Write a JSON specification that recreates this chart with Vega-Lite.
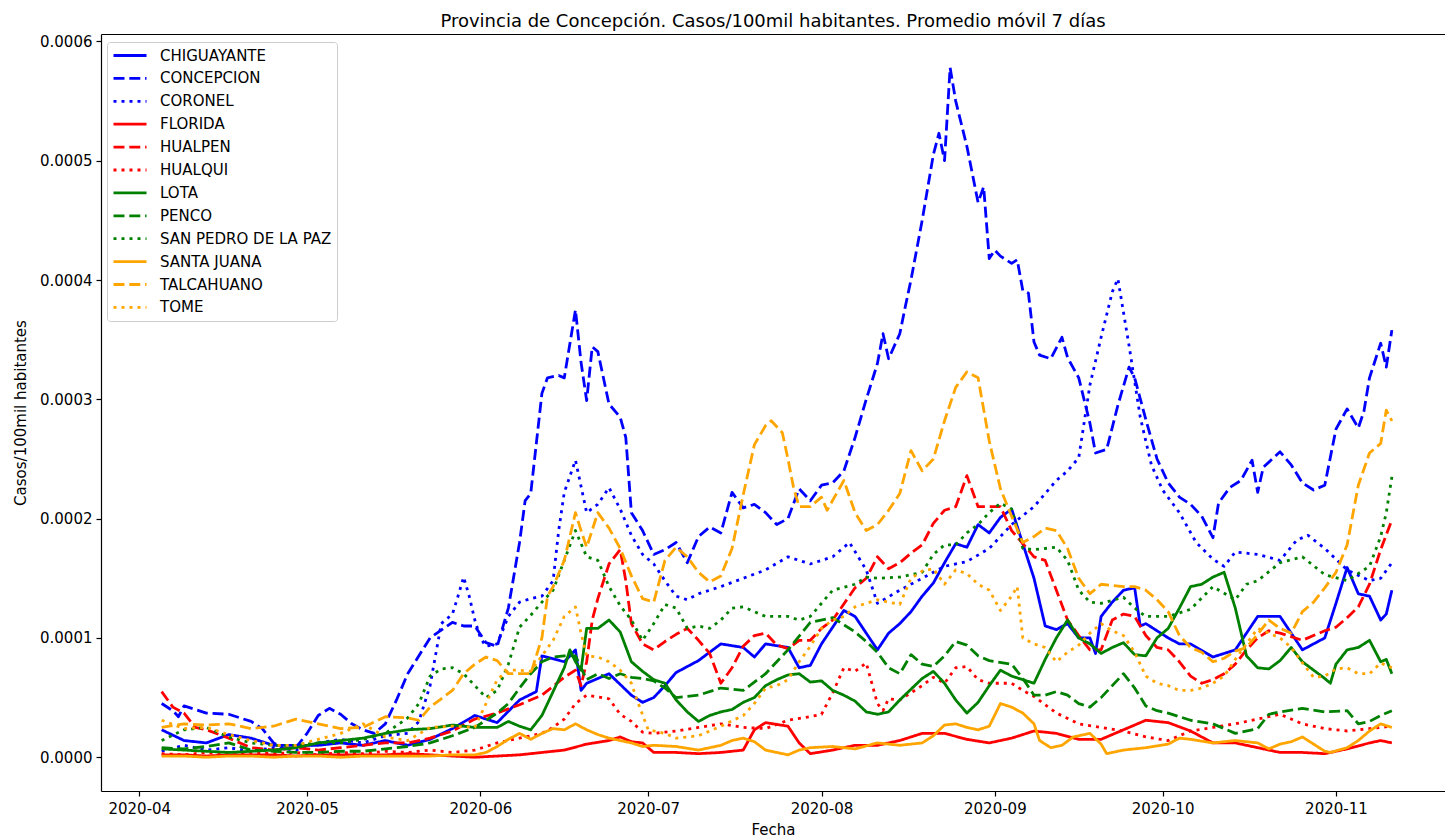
{
"$schema":"https://vega.github.io/schema/vega-lite/v6.json",
"autosize":{"type":"none"},
"width":1344,"height":757,
"padding":{"left":101,"top":34,"right":0,"bottom":47},
"background":"white",
"title":{"text":"Provincia de Concepción. Casos/100mil habitantes. Promedio móvil 7 días","font":"DejaVu Sans","fontSize":18,"fontWeight":"normal","color":"black","anchor":"middle","baseline":"alphabetic","offset":9,"dy":20},
"config":{"view":{"stroke":null},"font":"DejaVu Sans"},
"datasets":{"names":[
{"k":"CH","name":"CHIGUAYANTE"},{"k":"CN","name":"CONCEPCION"},{"k":"CR","name":"CORONEL"},
{"k":"FL","name":"FLORIDA"},{"k":"HP","name":"HUALPEN"},{"k":"HQ","name":"HUALQUI"},
{"k":"LO","name":"LOTA"},{"k":"PE","name":"PENCO"},{"k":"SP","name":"SAN PEDRO DE LA PAZ"},
{"k":"SJ","name":"SANTA JUANA"},{"k":"TA","name":"TALCAHUANO"},{"k":"TO","name":"TOME"}]},
"data":{"values":[
{"d":"2020-04-05","CH":23e-6,"CN":45e-6,"CR":5e-6,"FL":2e-6,"HP":55e-6,"HQ":3e-6,"LO":7e-6,"PE":8e-6,"SP":14e-6,"SJ":1e-6,"TA":25e-6,"TO":31e-6},
{"d":"2020-04-07","CN":39e-6,"HP":42e-6},
{"d":"2020-04-08","CN":34e-6},
{"d":"2020-04-09","CH":14e-6,"CN":43e-6,"CR":10e-6,"FL":2e-6,"HP":37e-6,"HQ":2e-6,"LO":6e-6,"PE":7e-6,"SP":23e-6,"SJ":1e-6,"TA":28e-6,"TO":24e-6},
{"d":"2020-04-11","HP":25e-6},
{"d":"2020-04-13","CH":12e-6,"CN":37e-6,"CR":6e-6,"FL":1e-6,"HP":23e-6,"HQ":4e-6,"LO":5e-6,"PE":9e-6,"SP":25e-6,"SJ":0,"TA":27e-6,"TO":25e-6},
{"d":"2020-04-17","CH":19e-6,"CN":36e-6,"CR":8e-6,"FL":2e-6,"HP":16e-6,"HQ":2e-6,"LO":4e-6,"PE":12e-6,"SP":17e-6,"SJ":1e-6,"TA":28e-6,"TO":19e-6},
{"d":"2020-04-21","CH":16e-6,"CN":30e-6,"CR":5e-6,"FL":2e-6,"HP":8e-6,"HQ":4e-6,"LO":5e-6,"PE":6e-6,"SP":12e-6,"SJ":1e-6,"TA":24e-6,"TO":14e-6},
{"d":"2020-04-23","CN":24e-6},
{"d":"2020-04-25","CH":10e-6,"CN":12e-6,"CR":8e-6,"FL":2e-6,"HP":6e-6,"HQ":3e-6,"LO":6e-6,"PE":5e-6,"SP":10e-6,"SJ":0,"TA":26e-6,"TO":10e-6},
{"d":"2020-04-27","CN":7e-6},
{"d":"2020-04-29","CH":10e-6,"CN":8e-6,"CR":6e-6,"FL":1e-6,"HP":8e-6,"HQ":4e-6,"LO":8e-6,"PE":4e-6,"SP":10e-6,"SJ":1e-6,"TA":32e-6,"TO":10e-6},
{"d":"2020-05-01","CN":20e-6},
{"d":"2020-05-03","CH":10e-6,"CN":35e-6,"CR":12e-6,"FL":2e-6,"HP":6e-6,"HQ":2e-6,"LO":12e-6,"PE":4e-6,"SP":12e-6,"SJ":1e-6,"TA":28e-6,"TO":15e-6},
{"d":"2020-05-05","CN":41e-6},
{"d":"2020-05-07","CH":12e-6,"CN":36e-6,"CR":15e-6,"FL":2e-6,"HP":8e-6,"HQ":4e-6,"LO":14e-6,"PE":5e-6,"SP":12e-6,"SJ":0,"TA":24e-6,"TO":20e-6},
{"d":"2020-05-09","CN":28e-6},
{"d":"2020-05-11","CH":10e-6,"CN":23e-6,"CR":12e-6,"FL":2e-6,"HP":10e-6,"HQ":3e-6,"LO":16e-6,"PE":5e-6,"SP":15e-6,"SJ":1e-6,"TA":25e-6,"TO":28e-6},
{"d":"2020-05-13","CN":20e-6},
{"d":"2020-05-15","CH":14e-6,"CN":28e-6,"CR":18e-6,"FL":2e-6,"HP":12e-6,"HQ":5e-6,"LO":20e-6,"PE":7e-6,"SP":20e-6,"SJ":1e-6,"TA":34e-6,"TO":17e-6},
{"d":"2020-05-17","CN":48e-6},
{"d":"2020-05-19","CH":10e-6,"CN":70e-6,"CR":20e-6,"FL":3e-6,"HP":12e-6,"HQ":4e-6,"LO":23e-6,"PE":9e-6,"SP":33e-6,"SJ":1e-6,"TA":33e-6,"TO":14e-6},
{"d":"2020-05-21","CN":85e-6,"CR":30e-6,"SP":45e-6,"TA":31e-6},
{"d":"2020-05-23","CH":15e-6,"CN":100e-6,"CR":60e-6,"FL":2e-6,"HP":16e-6,"HQ":6e-6,"LO":24e-6,"PE":12e-6,"SP":68e-6,"SJ":1e-6,"TA":42e-6,"TO":25e-6},
{"d":"2020-05-25","CR":112e-6,"SP":74e-6,"TA":49e-6},
{"d":"2020-05-27","CH":24e-6,"CN":113e-6,"CR":120e-6,"FL":1e-6,"HP":22e-6,"HQ":4e-6,"LO":27e-6,"PE":18e-6,"SP":75e-6,"SJ":2e-6,"TA":56e-6,"TO":26e-6},
{"d":"2020-05-28","CR":135e-6},
{"d":"2020-05-29","CN":110e-6,"CR":151e-6,"SP":70e-6,"TA":70e-6},
{"d":"2020-05-30","CR":135e-6},
{"d":"2020-05-31","CH":35e-6,"CN":110e-6,"CR":115e-6,"FL":0,"HP":32e-6,"HQ":6e-6,"LO":25e-6,"PE":25e-6,"SP":60e-6,"SJ":2e-6,"TA":78e-6,"TO":25e-6},
{"d":"2020-06-01","CR":100e-6},
{"d":"2020-06-02","CN":96e-6,"CR":93e-6,"SP":50e-6,"SJ":4e-6,"TA":84e-6,"TO":45e-6},
{"d":"2020-06-04","CH":29e-6,"CN":93e-6,"CR":95e-6,"FL":1e-6,"HP":37e-6,"HQ":12e-6,"LO":25e-6,"PE":37e-6,"SP":56e-6,"SJ":9e-6,"TA":81e-6,"TO":65e-6},
{"d":"2020-06-06","CN":125e-6,"CR":118e-6,"LO":30e-6,"PE":45e-6,"SP":78e-6,"SJ":15e-6,"TA":70e-6,"TO":73e-6},
{"d":"2020-06-08","CH":48e-6,"CN":180e-6,"CR":130e-6,"FL":2e-6,"HP":44e-6,"HQ":16e-6,"LO":26e-6,"PE":58e-6,"SP":109e-6,"SJ":20e-6,"TA":70e-6,"TO":73e-6},
{"d":"2020-06-09","CN":215e-6},
{"d":"2020-06-10","CN":221e-6,"CR":133e-6,"LO":23e-6,"PE":70e-6,"SP":119e-6,"SJ":15e-6,"TA":70e-6,"TO":72e-6},
{"d":"2020-06-11","CH":55e-6},
{"d":"2020-06-12","CH":85e-6,"CN":305e-6,"CR":135e-6,"FL":4e-6,"HP":52e-6,"HQ":20e-6,"LO":35e-6,"PE":80e-6,"SP":130e-6,"SJ":20e-6,"TA":100e-6,"TO":85e-6},
{"d":"2020-06-13","CN":318e-6,"TA":135e-6},
{"d":"2020-06-14","CR":148e-6,"HQ":25e-6,"LO":55e-6,"PE":84e-6,"SP":140e-6,"SJ":24e-6,"TA":143e-6,"TO":98e-6},
{"d":"2020-06-15","CN":320e-6,"CR":190e-6},
{"d":"2020-06-16","CH":80e-6,"CN":318e-6,"CR":222e-6,"FL":6e-6,"HP":67e-6,"HQ":32e-6,"LO":75e-6,"PE":85e-6,"SP":165e-6,"SJ":23e-6,"TA":165e-6,"TO":118e-6},
{"d":"2020-06-17","LO":90e-6},
{"d":"2020-06-18","CH":90e-6,"CN":375e-6,"CR":249e-6,"HP":73e-6,"HQ":45e-6,"LO":80e-6,"PE":85e-6,"SP":190e-6,"SJ":28e-6,"TA":205e-6,"TO":126e-6},
{"d":"2020-06-19","CH":56e-6,"CN":331e-6,"HP":60e-6,"LO":73e-6,"TA":190e-6,"TO":104e-6},
{"d":"2020-06-20","CH":62e-6,"CN":299e-6,"CR":205e-6,"FL":11e-6,"HP":80e-6,"HQ":52e-6,"LO":108e-6,"PE":65e-6,"SP":168e-6,"SJ":23e-6,"TA":176e-6,"TO":85e-6},
{"d":"2020-06-21","CN":344e-6,"HP":115e-6},
{"d":"2020-06-22","CN":340e-6,"CR":212e-6,"HP":133e-6,"LO":108e-6,"PE":70e-6,"SP":165e-6,"SJ":19e-6,"TA":205e-6,"TO":84e-6},
{"d":"2020-06-24","CH":70e-6,"CN":296e-6,"CR":226e-6,"FL":14e-6,"HP":162e-6,"HQ":49e-6,"LO":115e-6,"PE":66e-6,"SP":143e-6,"SJ":16e-6,"TA":192e-6,"TO":80e-6},
{"d":"2020-06-26","CN":285e-6,"CR":208e-6,"FL":17e-6,"HP":174e-6,"HQ":36e-6,"LO":105e-6,"PE":70e-6,"SP":127e-6,"SJ":14e-6,"TA":175e-6,"TO":73e-6},
{"d":"2020-06-27","CN":268e-6,"HP":148e-6},
{"d":"2020-06-28","CH":52e-6,"CN":205e-6,"CR":186e-6,"FL":13e-6,"HP":112e-6,"HQ":30e-6,"LO":80e-6,"PE":67e-6,"SP":115e-6,"SJ":12e-6,"TA":152e-6,"TO":62e-6},
{"d":"2020-06-29","TO":48e-6},
{"d":"2020-06-30","CH":46e-6,"CN":190e-6,"CR":170e-6,"FL":12e-6,"HP":95e-6,"HQ":21e-6,"LO":72e-6,"PE":66e-6,"SP":98e-6,"SJ":9e-6,"TA":133e-6},
{"d":"2020-07-01","TO":23e-6},
{"d":"2020-07-02","CH":50e-6,"CN":170e-6,"CR":162e-6,"FL":4e-6,"HP":90e-6,"HQ":20e-6,"LO":65e-6,"PE":64e-6,"SP":112e-6,"SJ":10e-6,"TA":130e-6},
{"d":"2020-07-04","CH":60e-6,"CN":174e-6,"CR":148e-6,"HP":97e-6,"LO":62e-6,"PE":58e-6,"SP":128e-6,"TA":165e-6,"TO":20e-6},
{"d":"2020-07-06","CH":71e-6,"CN":180e-6,"CR":135e-6,"FL":4e-6,"HP":103e-6,"HQ":22e-6,"LO":48e-6,"PE":50e-6,"SP":125e-6,"SJ":9e-6,"TA":176e-6,"TO":16e-6},
{"d":"2020-07-08","CN":163e-6,"CR":132e-6,"HP":108e-6,"LO":38e-6,"SP":108e-6,"TA":168e-6},
{"d":"2020-07-10","CH":81e-6,"CN":185e-6,"CR":137e-6,"FL":3e-6,"HP":98e-6,"HQ":25e-6,"LO":30e-6,"PE":52e-6,"SP":110e-6,"SJ":6e-6,"TA":155e-6,"TO":18e-6},
{"d":"2020-07-12","CN":193e-6,"HP":87e-6,"LO":35e-6,"SP":108e-6,"TA":147e-6},
{"d":"2020-07-14","CH":95e-6,"CN":188e-6,"CR":143e-6,"FL":4e-6,"HP":62e-6,"HQ":28e-6,"LO":38e-6,"PE":58e-6,"SP":115e-6,"SJ":10e-6,"TA":152e-6,"TO":26e-6},
{"d":"2020-07-16","CN":222e-6,"HP":75e-6,"LO":40e-6,"SP":125e-6,"SJ":14e-6,"TA":175e-6},
{"d":"2020-07-18","CH":92e-6,"CN":209e-6,"CR":150e-6,"FL":6e-6,"HP":93e-6,"HQ":25e-6,"LO":46e-6,"PE":56e-6,"SP":126e-6,"SJ":16e-6,"TA":220e-6,"TO":35e-6},
{"d":"2020-07-20","CH":84e-6,"CN":212e-6,"FL":23e-6,"HP":102e-6,"LO":50e-6,"SJ":13e-6,"TA":262e-6,"TO":45e-6},
{"d":"2020-07-22","CH":95e-6,"CN":205e-6,"CR":157e-6,"FL":29e-6,"HP":104e-6,"HQ":24e-6,"LO":60e-6,"PE":70e-6,"SP":118e-6,"SJ":6e-6,"TA":278e-6,"TO":58e-6},
{"d":"2020-07-23","TA":282e-6},
{"d":"2020-07-24","CN":195e-6,"HP":94e-6,"LO":65e-6,"TO":60e-6},
{"d":"2020-07-25","TA":272e-6},
{"d":"2020-07-26","CH":92e-6,"CN":200e-6,"CR":168e-6,"FL":26e-6,"HP":91e-6,"HQ":31e-6,"LO":69e-6,"PE":90e-6,"SP":118e-6,"SJ":2e-6,"TA":250e-6,"TO":65e-6},
{"d":"2020-07-27","TA":226e-6},
{"d":"2020-07-28","CH":75e-6,"CN":225e-6,"FL":12e-6,"HP":98e-6,"LO":70e-6,"SP":115e-6,"SJ":6e-6,"TA":210e-6,"TO":80e-6},
{"d":"2020-07-30","CH":77e-6,"CN":215e-6,"CR":162e-6,"FL":3e-6,"HP":98e-6,"HQ":34e-6,"LO":63e-6,"PE":113e-6,"SP":118e-6,"SJ":8e-6,"TA":210e-6,"TO":93e-6},
{"d":"2020-08-01","CH":95e-6,"CN":228e-6,"HP":108e-6,"HQ":36e-6,"LO":64e-6,"TA":218e-6,"TO":108e-6},
{"d":"2020-08-02","TA":207e-6},
{"d":"2020-08-03","CH":109e-6,"CN":230e-6,"CR":168e-6,"FL":6e-6,"HP":115e-6,"HQ":54e-6,"LO":56e-6,"PE":117e-6,"SP":140e-6,"SJ":9e-6,"TO":115e-6},
{"d":"2020-08-05","CH":123e-6,"CN":240e-6,"HQ":75e-6,"LO":52e-6,"TA":232e-6,"TO":118e-6},
{"d":"2020-08-06","CR":180e-6},
{"d":"2020-08-07","CH":118e-6,"CN":268e-6,"FL":10e-6,"HP":142e-6,"HQ":72e-6,"LO":47e-6,"PE":105e-6,"SP":145e-6,"SJ":7e-6,"TA":205e-6,"TO":126e-6},
{"d":"2020-08-09","CH":104e-6,"CN":300e-6,"CR":157e-6,"HP":150e-6,"HQ":79e-6,"LO":38e-6,"PE":97e-6,"SP":151e-6,"TA":190e-6},
{"d":"2020-08-11","CH":90e-6,"CN":330e-6,"CR":129e-6,"FL":10e-6,"HP":168e-6,"HQ":45e-6,"LO":36e-6,"PE":88e-6,"SP":150e-6,"SJ":12e-6,"TA":195e-6,"TO":132e-6},
{"d":"2020-08-12","CN":355e-6,"HQ":39e-6},
{"d":"2020-08-13","CH":104e-6,"CN":334e-6,"HP":158e-6,"HQ":49e-6,"LO":38e-6,"PE":75e-6,"TA":207e-6,"TO":130e-6},
{"d":"2020-08-15","CH":112e-6,"CN":355e-6,"CR":140e-6,"FL":14e-6,"HP":163e-6,"HQ":48e-6,"LO":48e-6,"PE":70e-6,"SP":151e-6,"SJ":10e-6,"TA":221e-6,"TO":128e-6},
{"d":"2020-08-16","CN":378e-6},
{"d":"2020-08-17","CH":122e-6,"CN":400e-6,"HP":171e-6,"LO":57e-6,"PE":86e-6,"TA":257e-6,"TO":150e-6},
{"d":"2020-08-19","CH":135e-6,"CN":450e-6,"CR":150e-6,"FL":20e-6,"HP":178e-6,"HQ":60e-6,"LO":66e-6,"PE":78e-6,"SP":155e-6,"SJ":12e-6,"TA":240e-6,"TO":156e-6},
{"d":"2020-08-21","CH":146e-6,"CN":505e-6,"HP":196e-6,"HQ":67e-6,"LO":72e-6,"PE":76e-6,"SP":170e-6,"SJ":18e-6,"TA":250e-6,"TO":158e-6},
{"d":"2020-08-22","CN":523e-6},
{"d":"2020-08-23","CH":163e-6,"CN":500e-6,"CR":160e-6,"FL":20e-6,"HP":207e-6,"HQ":62e-6,"LO":62e-6,"PE":85e-6,"SP":178e-6,"SJ":27e-6,"TA":282e-6,"TO":145e-6},
{"d":"2020-08-24","CN":578e-6},
{"d":"2020-08-25","CH":179e-6,"CN":550e-6,"HP":210e-6,"HQ":75e-6,"LO":48e-6,"PE":97e-6,"SP":178e-6,"SJ":28e-6,"TA":310e-6,"TO":157e-6},
{"d":"2020-08-27","CH":176e-6,"CN":512e-6,"CR":164e-6,"FL":15e-6,"HP":236e-6,"HQ":76e-6,"LO":37e-6,"PE":94e-6,"SP":188e-6,"SJ":25e-6,"TA":323e-6,"TO":154e-6},
{"d":"2020-08-29","CH":195e-6,"CN":465e-6,"HP":210e-6,"HQ":65e-6,"LO":46e-6,"PE":85e-6,"SP":195e-6,"SJ":23e-6,"TA":318e-6,"TO":145e-6},
{"d":"2020-08-30","CN":478e-6},
{"d":"2020-08-31","CH":188e-6,"CN":418e-6,"CR":175e-6,"FL":12e-6,"HP":210e-6,"HQ":62e-6,"LO":60e-6,"PE":81e-6,"SP":205e-6,"SJ":26e-6,"TA":265e-6,"TO":140e-6},
{"d":"2020-09-01","CN":425e-6},
{"d":"2020-09-02","CH":201e-6,"CN":420e-6,"HP":210e-6,"LO":73e-6,"SP":213e-6,"SJ":45e-6,"TA":225e-6,"TO":123e-6},
{"d":"2020-09-04","CH":208e-6,"CN":414e-6,"CR":195e-6,"FL":16e-6,"HP":190e-6,"HQ":62e-6,"LO":68e-6,"PE":78e-6,"SP":208e-6,"SJ":42e-6,"TA":202e-6,"TO":135e-6},
{"d":"2020-09-05","CN":417e-6,"TO":143e-6},
{"d":"2020-09-06","CN":391e-6,"HQ":56e-6,"LO":65e-6,"PE":66e-6,"SP":175e-6,"SJ":37e-6,"TA":180e-6,"TO":100e-6},
{"d":"2020-09-07","CN":389e-6},
{"d":"2020-09-08","CH":150e-6,"CN":348e-6,"CR":210e-6,"FL":22e-6,"HP":168e-6,"HQ":51e-6,"LO":62e-6,"PE":52e-6,"SP":174e-6,"SJ":28e-6,"TA":185e-6,"TO":95e-6},
{"d":"2020-09-09","CN":337e-6,"SJ":14e-6},
{"d":"2020-09-10","CH":110e-6,"HP":165e-6,"LO":82e-6,"PE":52e-6,"TA":192e-6,"TO":92e-6},
{"d":"2020-09-11","CN":334e-6,"SJ":8e-6},
{"d":"2020-09-12","CH":107e-6,"CR":232e-6,"FL":20e-6,"HP":140e-6,"HQ":37e-6,"LO":100e-6,"PE":55e-6,"SP":176e-6,"TA":190e-6,"TO":80e-6},
{"d":"2020-09-13","CN":352e-6,"SJ":10e-6},
{"d":"2020-09-14","CH":112e-6,"CN":335e-6,"CR":240e-6,"HP":115e-6,"LO":115e-6,"PE":52e-6,"SP":165e-6,"TA":175e-6,"TO":88e-6},
{"d":"2020-09-15","SJ":17e-6},
{"d":"2020-09-16","CH":100e-6,"CN":318e-6,"CR":251e-6,"FL":15e-6,"HP":102e-6,"HQ":28e-6,"LO":100e-6,"PE":45e-6,"SP":140e-6,"TA":150e-6,"TO":94e-6},
{"d":"2020-09-18","CH":100e-6,"CN":280e-6,"CR":312e-6,"HP":90e-6,"LO":95e-6,"PE":42e-6,"SP":130e-6,"SJ":20e-6,"TA":137e-6,"TO":104e-6},
{"d":"2020-09-19","CH":87e-6,"CN":255e-6},
{"d":"2020-09-20","CH":118e-6,"CR":352e-6,"FL":15e-6,"HP":90e-6,"HQ":25e-6,"LO":87e-6,"PE":50e-6,"SP":129e-6,"SJ":11e-6,"TA":145e-6,"TO":112e-6},
{"d":"2020-09-21","CN":258e-6,"SJ":3e-6},
{"d":"2020-09-22","CH":130e-6,"CR":390e-6,"HP":115e-6,"LO":92e-6,"PE":60e-6,"TA":144e-6,"TO":106e-6},
{"d":"2020-09-23","CN":295e-6,"CR":401e-6},
{"d":"2020-09-24","CH":140e-6,"FL":23e-6,"HP":120e-6,"HQ":22e-6,"LO":96e-6,"PE":70e-6,"SP":134e-6,"SJ":6e-6,"TA":143e-6,"TO":102e-6},
{"d":"2020-09-25","CN":327e-6,"CR":345e-6},
{"d":"2020-09-26","CH":142e-6,"CN":318e-6,"HP":118e-6,"LO":86e-6,"PE":58e-6,"SP":125e-6,"TA":143e-6,"TO":88e-6},
{"d":"2020-09-27","CH":110e-6,"CR":285e-6},
{"d":"2020-09-28","CH":112e-6,"CN":283e-6,"FL":31e-6,"HP":102e-6,"HQ":17e-6,"LO":85e-6,"PE":43e-6,"SP":118e-6,"SJ":8e-6,"TA":140e-6,"TO":68e-6},
{"d":"2020-09-29","CR":245e-6},
{"d":"2020-09-30","CN":250e-6,"HP":92e-6,"LO":100e-6,"PE":39e-6,"TA":132e-6,"TO":62e-6},
{"d":"2020-10-01","CR":224e-6},
{"d":"2020-10-02","CH":100e-6,"CN":230e-6,"FL":29e-6,"HP":90e-6,"HQ":14e-6,"LO":108e-6,"PE":37e-6,"SP":118e-6,"SJ":11e-6,"TA":122e-6,"TO":60e-6},
{"d":"2020-10-04","CH":95e-6,"CN":218e-6,"CR":205e-6,"HP":80e-6,"LO":125e-6,"SJ":16e-6,"TA":102e-6,"TO":56e-6},
{"d":"2020-10-06","CH":95e-6,"CN":212e-6,"FL":22e-6,"HP":68e-6,"HQ":22e-6,"LO":143e-6,"PE":31e-6,"SP":124e-6,"SJ":15e-6,"TA":92e-6,"TO":56e-6},
{"d":"2020-10-07","CR":180e-6},
{"d":"2020-10-08","CN":202e-6,"HP":62e-6,"LO":145e-6,"TA":88e-6,"TO":58e-6},
{"d":"2020-10-10","CH":84e-6,"CN":184e-6,"CR":166e-6,"FL":12e-6,"HP":65e-6,"HQ":25e-6,"LO":151e-6,"PE":28e-6,"SP":143e-6,"SJ":12e-6,"TA":80e-6,"TO":62e-6},
{"d":"2020-10-11","CN":213e-6},
{"d":"2020-10-12","CR":160e-6,"HP":70e-6,"LO":155e-6,"TA":83e-6,"TO":68e-6},
{"d":"2020-10-13","CN":226e-6},
{"d":"2020-10-14","CH":90e-6,"CR":172e-6,"FL":12e-6,"HP":78e-6,"HQ":28e-6,"LO":125e-6,"PE":20e-6,"SP":132e-6,"SJ":14e-6,"TA":89e-6,"TO":82e-6},
{"d":"2020-10-15","CN":232e-6},
{"d":"2020-10-16","HP":90e-6,"LO":85e-6,"SP":145e-6,"TA":92e-6,"TO":95e-6},
{"d":"2020-10-17","CN":249e-6},
{"d":"2020-10-18","CH":118e-6,"CN":222e-6,"CR":170e-6,"FL":8e-6,"HP":100e-6,"HQ":32e-6,"LO":75e-6,"PE":24e-6,"SP":148e-6,"SJ":12e-6,"TA":103e-6,"TO":108e-6},
{"d":"2020-10-19","CN":243e-6},
{"d":"2020-10-20","HP":106e-6,"LO":74e-6,"PE":36e-6,"SJ":7e-6,"TA":115e-6,"TO":104e-6},
{"d":"2020-10-22","CH":118e-6,"CN":256e-6,"CR":165e-6,"FL":4e-6,"HP":104e-6,"HQ":36e-6,"LO":81e-6,"PE":38e-6,"SP":163e-6,"SJ":11e-6,"TA":108e-6,"TO":100e-6},
{"d":"2020-10-24","CN":245e-6,"LO":92e-6,"SJ":13e-6,"TA":104e-6,"TO":92e-6},
{"d":"2020-10-25","CR":182e-6},
{"d":"2020-10-26","CH":90e-6,"CN":230e-6,"FL":4e-6,"HP":98e-6,"HQ":28e-6,"LO":80e-6,"PE":41e-6,"SP":168e-6,"SJ":17e-6,"TA":122e-6,"TO":79e-6},
{"d":"2020-10-27","CR":186e-6},
{"d":"2020-10-28","CN":224e-6,"LO":73e-6,"SJ":11e-6,"TA":130e-6,"TO":67e-6},
{"d":"2020-10-30","CH":100e-6,"CN":228e-6,"CR":175e-6,"FL":3e-6,"HP":106e-6,"HQ":24e-6,"LO":66e-6,"PE":38e-6,"SP":153e-6,"SJ":5e-6,"TA":142e-6,"TO":68e-6},
{"d":"2020-10-31","LO":62e-6,"SJ":4e-6},
{"d":"2020-11-01","CH":129e-6,"CN":275e-6,"HP":109e-6,"LO":78e-6,"TA":155e-6,"TO":74e-6},
{"d":"2020-11-03","CH":159e-6,"CN":292e-6,"CR":157e-6,"FL":7e-6,"HP":117e-6,"HQ":22e-6,"LO":90e-6,"PE":39e-6,"SP":148e-6,"SJ":8e-6,"TA":178e-6,"TO":75e-6},
{"d":"2020-11-05","CH":137e-6,"CN":276e-6,"HP":126e-6,"LO":92e-6,"PE":28e-6,"SJ":14e-6,"TA":228e-6,"TO":70e-6},
{"d":"2020-11-06","CN":290e-6},
{"d":"2020-11-07","CH":135e-6,"CN":318e-6,"CR":148e-6,"FL":12e-6,"HP":145e-6,"HQ":24e-6,"LO":98e-6,"PE":30e-6,"SP":160e-6,"SJ":22e-6,"TA":255e-6,"TO":70e-6},
{"d":"2020-11-09","CH":115e-6,"CN":347e-6,"CR":150e-6,"FL":14e-6,"HP":174e-6,"LO":80e-6,"PE":35e-6,"SP":185e-6,"SJ":28e-6,"TA":263e-6,"TO":79e-6},
{"d":"2020-11-10","CH":120e-6,"CN":327e-6,"LO":82e-6,"SP":205e-6,"TA":291e-6},
{"d":"2020-11-11","CH":140e-6,"CN":358e-6,"CR":163e-6,"FL":12e-6,"HP":199e-6,"HQ":26e-6,"LO":70e-6,"PE":39e-6,"SP":235e-6,"SJ":25e-6,"TA":282e-6,"TO":75e-6}
]},
"transform":[
{"fold":["CH","CN","CR","FL","HP","HQ","LO","PE","SP","SJ","TA","TO"],"as":["k","v"]},
{"filter":"isValid(datum.v)"},
{"lookup":"k","from":{"data":{"name":"names"},"key":"k","fields":["name"]}}
],
"layer":[
{"mark":{"type":"line","strokeWidth":2.8,"strokeJoin":"round"},
 "encoding":{
  "x":{"field":"d","type":"temporal","scale":{"type":"utc","domain":[{"year":2020,"month":3,"date":25,"hours":3,"minutes":37,"utc":true},{"year":2020,"month":11,"date":20,"hours":12,"utc":true}]},
       "axis":{"orient":"bottom","labelExpr":"utcFormat(datum.value, '%Y-%m')","tickCount":{"interval":"month","step":1},"title":"Fecha","titleFont":"DejaVu Sans","titleFontSize":15,"titleFontWeight":"normal","titleColor":"black","titlePadding":6,"labelFont":"DejaVu Sans","labelFontSize":15,"labelColor":"black","labelPadding":5,"labelFlush":false,"labelOverlap":false,"tickColor":"black","tickSize":5,"tickWidth":1.2,"domainColor":"black","domainWidth":1.2,"grid":false}},
  "y":{"field":"v","type":"quantitative","scale":{"domain":[-0.0000283,0.0006062],"nice":false,"zero":false},
       "axis":{"values":[0,0.0001,0.0002,0.0003,0.0004,0.0005,0.0006],"format":".4f","title":"Casos/100mil habitantes","titleFont":"DejaVu Sans","titleFontSize":15,"titleFontWeight":"normal","titleColor":"black","titlePadding":11,"labelFont":"DejaVu Sans","labelFontSize":15,"labelColor":"black","labelPadding":4,"tickColor":"black","tickSize":5,"tickWidth":1.2,"domainColor":"black","domainWidth":1.2,"grid":false}},
  "color":{"field":"name","type":"nominal",
       "scale":{"domain":["CHIGUAYANTE","CONCEPCION","CORONEL","FLORIDA","HUALPEN","HUALQUI","LOTA","PENCO","SAN PEDRO DE LA PAZ","SANTA JUANA","TALCAHUANO","TOME"],
                "range":["#0000ff","#0000ff","#0000ff","#ff0000","#ff0000","#ff0000","#008000","#008000","#008000","#ffa500","#ffa500","#ffa500"]},
       "legend":{"title":null,"orient":"none","legendX":6,"legendY":8,"fillColor":"rgba(255,255,255,0.8)","strokeColor":"#cccccc","cornerRadius":3,"padding":5,"labelFont":"DejaVu Sans","labelFontSize":15,"labelColor":"black","labelLimit":400,"symbolType":"stroke","symbolSize":1089,"symbolStrokeWidth":2.8,"labelOffset":12,"rowPadding":5.9,"clipHeight":17}},
  "strokeDash":{"field":"name","type":"nominal",
       "scale":{"domain":["CHIGUAYANTE","CONCEPCION","CORONEL","FLORIDA","HUALPEN","HUALQUI","LOTA","PENCO","SAN PEDRO DE LA PAZ","SANTA JUANA","TALCAHUANO","TOME"],
                "range":[[1,0],[11,4.8],[3,5],[1,0],[11,4.8],[3,5],[1,0],[11,4.8],[3,5],[1,0],[11,4.8],[3,5]]},
       "legend":{"title":null,"orient":"none","legendX":6,"legendY":8,"fillColor":"rgba(255,255,255,0.8)","strokeColor":"#cccccc","cornerRadius":3,"padding":5,"labelFont":"DejaVu Sans","labelFontSize":15,"labelColor":"black","labelLimit":400,"symbolType":"stroke","symbolSize":1089,"symbolStrokeWidth":2.8,"labelOffset":12,"rowPadding":5.9,"clipHeight":17}}
 }},
{"mark":{"type":"rule","opacity":0},
 "encoding":{
  "x":{"field":"d","type":"temporal","scale":{"type":"utc","domain":[{"year":2020,"month":3,"date":25,"hours":3,"minutes":37,"utc":true},{"year":2020,"month":11,"date":20,"hours":12,"utc":true}]},
       "axis":{"orient":"top","labels":false,"ticks":false,"domain":true,"domainColor":"black","domainWidth":1.2,"title":null,"grid":false}}
 }}
],
"resolve":{"axis":{"x":"independent"}}
}
